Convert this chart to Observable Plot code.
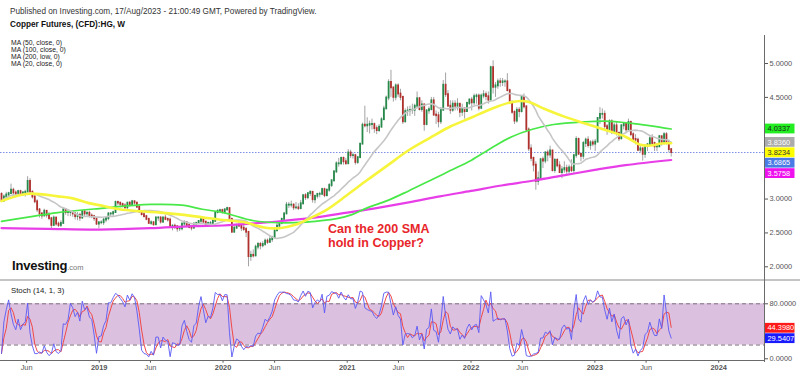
<!DOCTYPE html>
<html><head><meta charset="utf-8">
<script src="https://cdn.jsdelivr.net/npm/d3@7"></script>
<script src="https://cdn.jsdelivr.net/npm/@observablehq/plot@0.6"></script>
<style>
body{margin:0;background:#fff;}
#wrap{position:relative;width:800px;height:376px;overflow:hidden;font-family:"Liberation Sans",Arial,sans-serif;background:#fff;}
#wrap svg{position:absolute;left:0;}
.abs{position:absolute;white-space:nowrap;line-height:1;}
</style></head><body><div id="wrap"></div>
<script>
// ---------- DATA (weekly candles, Copper Futures HG, W) ----------
const firstWeek = "2018-03-19";
const firstOpen = 3.07;
const closes = [
 2.97,3.03,3.06,3.08,3.13,3.09,3.07,3.11,3.07,3.09,3.10,3.26,3.10,3.03,2.96,2.84,2.78,2.75,2.82,2.76,2.71,2.61,2.72,2.63,2.61,2.64,2.84,2.80,2.80,2.80,2.78,2.74,2.76,2.72,2.81,2.78,2.79,2.75,2.74,2.71,2.63,
 2.65,2.65,2.69,2.71,2.78,2.78,2.80,2.95,2.94,2.92,2.90,2.87,2.94,2.91,2.96,2.94,2.88,2.81,2.77,2.74,2.70,2.64,2.65,2.62,2.72,2.72,2.66,2.72,2.70,2.69,2.58,2.60,2.59,2.56,2.56,2.63,2.65,2.61,2.58,2.57,2.63,2.64,2.67,2.70,2.66,2.62,2.64,2.64,2.67,2.80,2.82,2.83,
 2.80,2.84,2.86,2.70,2.51,2.57,2.61,2.60,2.57,2.55,2.51,2.15,2.17,2.16,2.29,2.33,2.31,2.33,2.38,2.36,2.40,2.43,2.53,2.60,2.64,2.70,2.78,2.91,2.91,2.91,2.87,2.87,2.86,2.93,3.05,3.02,3.08,3.10,2.99,3.04,3.07,3.07,3.14,3.05,3.13,3.20,3.27,3.40,3.52,3.52,3.60,3.55,
 3.52,3.68,3.64,3.64,3.54,3.61,3.81,4.09,4.08,4.09,4.10,4.10,4.04,4.01,4.06,4.17,4.33,4.49,4.72,4.64,4.50,4.67,4.55,4.50,4.14,4.29,4.30,4.31,4.31,4.37,4.48,4.32,4.39,4.10,4.30,4.32,4.45,4.24,4.23,4.14,4.31,4.68,4.54,4.37,4.31,4.40,4.37,4.40,4.28,4.33,4.29,4.41,4.46,
 4.42,4.51,4.52,4.34,4.52,4.54,4.51,4.46,4.94,4.65,4.67,4.73,4.72,4.73,4.73,4.60,4.41,4.28,4.15,4.31,4.29,4.50,4.36,4.02,3.74,3.60,3.50,3.26,3.30,3.58,3.56,3.68,3.65,3.71,3.42,3.57,3.49,3.39,3.43,3.45,3.41,3.46,3.42,3.64,3.88,3.66,3.63,3.82,3.87,3.79,3.83,3.81,
 3.84,4.19,4.25,4.25,4.07,4.01,4.14,3.98,4.08,3.97,3.89,4.08,4.10,4.02,4.13,3.95,3.88,3.87,3.72,3.74,3.66,3.78,3.80,3.89,3.82,3.77,3.77,3.92,3.82,3.95,3.84,3.73,3.6865
];
const highs = [
 3.09,3.06,3.10,3.10,3.22,3.16,3.12,3.13,3.13,3.11,3.13,3.33,3.30,3.12,3.05,2.99,2.86,2.80,2.85,2.83,2.80,2.73,2.75,2.73,2.66,2.68,2.86,2.86,2.84,2.83,2.82,2.80,2.80,2.79,2.83,2.83,2.82,2.82,2.78,2.76,2.72,
 2.66,2.68,2.72,2.73,2.80,2.80,2.82,2.97,2.97,2.95,2.94,2.93,2.95,2.96,2.98,2.97,2.95,2.90,2.83,2.80,2.76,2.72,2.68,2.67,2.74,2.74,2.74,2.73,2.76,2.72,2.72,2.62,2.63,2.61,2.58,2.65,2.68,2.66,2.63,2.61,2.65,2.66,2.68,2.72,2.72,2.67,2.66,2.67,2.70,2.81,2.84,2.85,
 2.85,2.86,2.88,2.86,2.72,2.60,2.63,2.66,2.61,2.62,2.58,2.52,2.23,2.25,2.32,2.36,2.36,2.37,2.41,2.41,2.45,2.45,2.55,2.65,2.66,2.72,2.80,2.95,2.95,2.97,2.93,2.95,2.93,2.98,3.06,3.08,3.09,3.12,3.10,3.06,3.08,3.10,3.16,3.16,3.15,3.23,3.28,3.42,3.55,3.60,3.62,3.62,
 3.60,3.73,3.72,3.68,3.66,3.63,3.82,4.12,4.37,4.20,4.15,4.18,4.12,4.08,4.10,4.20,4.37,4.52,4.76,4.90,4.65,4.70,4.70,4.62,4.52,4.33,4.36,4.37,4.40,4.40,4.58,4.50,4.45,4.40,4.32,4.36,4.50,4.50,4.30,4.28,4.35,4.75,4.86,4.60,4.45,4.45,4.45,4.48,4.40,4.40,4.35,4.43,4.48,
 4.50,4.55,4.55,4.55,4.55,4.60,4.58,4.58,4.96,5.04,4.72,4.77,4.78,4.78,4.76,4.85,4.62,4.45,4.30,4.35,4.35,4.52,4.55,4.38,4.05,3.80,3.62,3.55,3.40,3.60,3.62,3.70,3.72,3.78,3.72,3.60,3.60,3.55,3.48,3.55,3.50,3.50,3.58,3.66,3.92,3.90,3.68,3.85,3.90,3.92,3.86,3.87,
 3.88,4.20,4.35,4.33,4.30,4.10,4.17,4.17,4.12,4.13,3.99,4.10,4.13,4.12,4.18,4.15,3.98,3.95,3.90,3.80,3.76,3.80,3.82,3.92,3.95,3.84,3.82,3.94,3.93,3.98,3.98,3.87,3.74
];
const lows = [
 2.96,2.96,3.00,3.02,3.07,3.05,3.02,3.05,3.05,3.04,3.03,3.09,3.09,3.00,2.93,2.80,2.72,2.70,2.74,2.72,2.68,2.55,2.60,2.60,2.58,2.58,2.63,2.76,2.74,2.74,2.73,2.69,2.68,2.67,2.70,2.74,2.74,2.72,2.71,2.67,2.61,
 2.56,2.62,2.61,2.65,2.68,2.74,2.74,2.79,2.90,2.87,2.87,2.85,2.84,2.88,2.89,2.91,2.86,2.79,2.75,2.72,2.68,2.63,2.61,2.60,2.61,2.67,2.63,2.64,2.68,2.66,2.57,2.53,2.55,2.51,2.52,2.53,2.60,2.59,2.56,2.53,2.56,2.60,2.62,2.63,2.64,2.59,2.60,2.60,2.61,2.66,2.78,2.79,
 2.78,2.77,2.82,2.68,2.50,2.50,2.55,2.58,2.52,2.52,2.43,2.00,2.08,2.13,2.15,2.25,2.25,2.28,2.30,2.33,2.35,2.36,2.42,2.52,2.55,2.62,2.68,2.77,2.86,2.87,2.83,2.84,2.83,2.84,2.91,2.98,2.99,3.04,2.94,2.93,3.00,3.02,3.05,3.02,3.03,3.10,3.17,3.25,3.38,3.47,3.50,3.50,
 3.50,3.52,3.60,3.59,3.50,3.51,3.60,3.80,4.05,3.98,3.96,4.02,3.97,3.95,3.98,4.05,4.16,4.32,4.45,4.50,4.43,4.45,4.50,4.45,4.10,4.12,4.22,4.22,4.25,4.22,4.35,4.30,4.28,4.00,4.08,4.25,4.30,4.22,4.10,4.05,4.10,4.30,4.50,4.35,4.25,4.28,4.30,4.30,4.20,4.22,4.18,4.28,4.38,
 4.30,4.38,4.40,4.30,4.32,4.48,4.45,4.40,4.45,4.55,4.50,4.62,4.65,4.66,4.65,4.58,4.40,4.25,4.10,4.12,4.20,4.27,4.33,3.98,3.70,3.55,3.40,3.13,3.20,3.28,3.45,3.52,3.55,3.60,3.40,3.38,3.46,3.38,3.30,3.38,3.35,3.36,3.39,3.38,3.60,3.65,3.55,3.58,3.76,3.75,3.72,3.77,
 3.70,3.83,4.10,4.18,4.02,3.94,3.98,3.95,3.95,3.93,3.85,3.87,4.02,3.98,4.00,3.92,3.84,3.80,3.70,3.68,3.56,3.60,3.70,3.78,3.78,3.70,3.70,3.76,3.78,3.80,3.80,3.68,3.62
];

const ma50Dates = ["2018-03-19","2018-05-15","2018-06-15","2018-09-01","2018-10-15","2018-12-01","2019-01-01","2019-03-01","2019-05-01","2019-07-01","2019-09-01","2019-11-01","2020-01-01","2020-03-01","2020-05-01","2020-06-15","2020-08-01","2020-09-15","2020-11-01","2021-01-01","2021-03-01","2021-05-01","2021-07-01","2021-09-01","2021-11-01","2022-01-01","2022-03-01","2022-05-01","2022-06-15","2022-08-01","2022-10-01","2022-12-01","2023-02-01","2023-04-01","2023-05-15","2023-06-15","2023-07-15","2023-08-14"];
const ma50Values = [2.97,3.06,3.08,3.04,3.01,2.94,2.91,2.85,2.82,2.80,2.77,2.73,2.69,2.66,2.58,2.57,2.62,2.72,2.84,3.06,3.28,3.50,3.72,3.90,4.07,4.20,4.33,4.43,4.44,4.34,4.22,4.12,4.02,3.92,3.80,3.79,3.82,3.8234];
const ma100Dates = ["2018-03-19","2018-06-01","2018-09-01","2019-01-01","2019-06-01","2019-09-01","2019-11-01","2020-01-01","2020-04-01","2020-06-15","2020-09-01","2020-12-01","2021-01-15","2021-03-01","2021-05-01","2021-07-01","2021-09-01","2021-11-01","2022-01-01","2022-03-01","2022-05-01","2022-07-01","2022-09-01","2022-12-01","2023-02-01","2023-04-15","2023-06-15","2023-08-14"];
const ma100Values = [2.67,2.73,2.80,2.86,2.92,2.91,2.85,2.80,2.68,2.65,2.66,2.71,2.77,2.87,2.98,3.12,3.27,3.42,3.57,3.75,3.92,4.03,4.10,4.14,4.15,4.12,4.08,4.0337];
const ma200Dates = ["2018-03-19","2018-08-01","2019-01-01","2019-06-01","2019-10-01","2020-01-01","2020-04-01","2020-07-01","2020-10-01","2021-01-01","2021-04-01","2021-07-01","2021-10-01","2022-01-01","2022-04-01","2022-07-01","2022-10-01","2023-01-01","2023-04-01","2023-08-14"];
const ma200Values = [2.57,2.56,2.55,2.57,2.60,2.61,2.64,2.68,2.73,2.80,2.87,2.95,3.04,3.12,3.20,3.27,3.35,3.43,3.50,3.5758];

// Last-value tags
const priceTagValues = [4.0337, 3.8360, 3.8234, 3.6865, 3.5758];
const priceTagFills  = ["#22ee22", "#ababab", "#ffff00", "#4a7ae6", "#ee11ee"];
const priceTagInk    = ["#1a1a1a", "#ffffff", "#333333", "#ffffff", "#ffffff"];
const stochTagValues = [44.3980, 29.5407];
const stochTagFills  = ["#ff1a1a", "#1a1aff"];
const stochTagInk    = ["#ffffff", "#ffffff"];

// Axes (labels hidden behind the tags in the reference are left out)
const priceTicks = [2, 2.5, 3, 4.5, 5];
const stochTicks = [0, 80];
const stochBand = [20, 80];
const tickDates  = ["2018-06-01","2019-01-01","2019-06-01","2020-01-01","2020-06-01","2021-01-01","2021-06-01","2022-01-01","2022-06-01","2023-01-01","2023-06-01","2024-01-01"];
const tickLabels = ["Jun","2019","Jun","2020","Jun","2021","Jun","2022","Jun","2023","Jun","2024"];
const maLegend = ["MA (50, close, 0)", "MA (100, close, 0)", "MA (200, low, 0)", "MA (20, close, 0)"];

// ---------- BUILD ----------
const FONT = "'Liberation Sans', Arial, sans-serif";
const UP = "#26894a", DOWN = "#b0302c";
const dateOf = s => new Date(s + "T00:00:00Z");
const n = Math.min(closes.length, highs.length, lows.length);
const start = dateOf(firstWeek);
const candles = d3.range(n).map(i => ({
  date: d3.utcDay.offset(start, 7 * i),
  open: i === 0 ? firstOpen : closes[i - 1],
  high: highs[i], low: lows[i], close: closes[i]
}));
const toSeries = (ds, vs) => ds.map((d, i) => ({date: dateOf(d), value: vs[i]}));
const ma50 = toSeries(ma50Dates, ma50Values);
const ma100 = toSeries(ma100Dates, ma100Values);
const ma200 = toSeries(ma200Dates, ma200Values);

// Stoch(14,1,3)
const kData = candles.map((d, i) => {
  const from = Math.max(0, i - 13);
  const hh = d3.max(highs.slice(from, i + 1)), ll = d3.min(lows.slice(from, i + 1));
  return {date: d.date, k: hh > ll ? (d.close - ll) / (hh - ll) * 100 : 50};
});

const xDomain = [dateOf("2018-03-16"), dateOf("2024-05-15")];

function tagMark(values, fills, inks) {
  return (index, scales, vals, dims) => {
    const g = d3.create("svg:g").attr("text-anchor", "start");
    const x0 = dims.width - dims.marginRight;
    const H = 10.4;
    const order = d3.range(values.length).sort((a, b) => values[b] - values[a]);
    let prev = -Infinity;
    for (const i of order) {
      let y = scales.y(values[i]);
      if (y < prev + H) y = prev + H;
      prev = y;
      g.append("rect").attr("x", x0 + 0.5).attr("y", y - H / 2 + 0.3).attr("width", 30).attr("height", H - 0.6).attr("fill", fills[i]);
      g.append("text").attr("x", x0 + 3.5).attr("y", y).attr("dy", "0.36em").attr("text-anchor", "start")
        .attr("fill", inks[i]).attr("font-size", 7.4).attr("font-family", FONT)
        .text(values[i].toFixed(4));
    }
    return g.node();
  };
}

const price = Plot.plot({
  width: 800, height: 280,
  marginLeft: 0, marginRight: 36, marginTop: 0, marginBottom: 0,
  style: {fontFamily: FONT, fontSize: "7.4px", background: "transparent", color: "#555", overflow: "visible"},
  x: {type: "utc", domain: xDomain, axis: null},
  y: {domain: [1.798, 5.93]},
  marks: [
    Plot.axisY(priceTicks, {anchor: "right", tickSize: 3, tickPadding: 2, tickFormat: d => d.toFixed(4), fontSize: 7.4, label: null}),
    Plot.ruleY([closes[n - 1]], {stroke: "#7a90e6", strokeDasharray: "1.5,1.5", strokeWidth: 1}),
    Plot.ruleX(candles, {x: "date", y1: "low", y2: "high", stroke: "#a3a3a3", strokeWidth: 1}),
    Plot.ruleX(candles, {x: "date", y1: "open", y2: "close", filter: d => d.close >= d.open, stroke: UP, strokeWidth: 1.8, strokeLinecap: "square"}),
    Plot.ruleX(candles, {x: "date", y1: "open", y2: "close", filter: d => d.close < d.open, stroke: DOWN, strokeWidth: 1.8, strokeLinecap: "square"}),
    Plot.line(ma200, {x: "date", y: "value", stroke: "#e83ee8", strokeWidth: 2.2, curve: "catmull-rom"}),
    Plot.line(ma100, {x: "date", y: "value", stroke: "#48e848", strokeWidth: 1.7, curve: "catmull-rom"}),
    Plot.line(candles, Plot.windowY({k: 20, anchor: "end"}, {x: "date", y: "close", stroke: "#c6c6c6", strokeWidth: 1.6})),
    Plot.line(ma50, {x: "date", y: "value", stroke: "#f7f53b", strokeWidth: 2.6, curve: "catmull-rom"}),
    tagMark(priceTagValues, priceTagFills, priceTagInk)
  ]
});
price.style.top = "0px";

const labelByTime = new Map(tickDates.map((d, i) => [+dateOf(d), tickLabels[i]]));
const yearTicks = tickDates.filter((d, i) => /^\d+$/.test(tickLabels[i])).map(dateOf);
const monthTicks = tickDates.filter((d, i) => !/^\d+$/.test(tickLabels[i])).map(dateOf);

const stoch = Plot.plot({
  width: 800, height: 96,
  marginLeft: 0, marginRight: 36, marginTop: 0, marginBottom: 15.3,
  style: {fontFamily: FONT, fontSize: "7.4px", background: "transparent", color: "#555", overflow: "visible"},
  x: {type: "utc", domain: xDomain},
  y: {domain: [-3.5, 113.9]},
  marks: [
    Plot.rect([stochBand], {y1: d => d[0], y2: d => d[1], fill: "#dcc0df"}),
    Plot.ruleY(stochBand, {stroke: "#7d6f7d", strokeDasharray: "4,3", strokeWidth: 1}),
    Plot.line(kData, Plot.windowY({k: 3, anchor: "end"}, {x: "date", y: "k", stroke: "#f04848", strokeWidth: 1})),
    Plot.line(kData, {x: "date", y: "k", stroke: "#5a5af5", strokeOpacity: 0.9, strokeWidth: 1}),
    Plot.axisY(stochTicks, {anchor: "right", tickSize: 3, tickPadding: 2, tickFormat: d => d.toFixed(4), fontSize: 7.4, label: null}),
    Plot.axisX(monthTicks, {anchor: "bottom", tickSize: 2, tickPadding: 2, tickFormat: d => labelByTime.get(+d), fontSize: 7.4, label: null}),
    Plot.axisX(yearTicks, {anchor: "bottom", tickSize: 2, tickPadding: 2, tickFormat: d => labelByTime.get(+d), fontSize: 7.4, fontWeight: "bold", label: null}),
    tagMark(stochTagValues, stochTagFills, stochTagInk)
  ]
});
stoch.style.top = "280px";

const wrap = document.getElementById("wrap");
wrap.appendChild(price);
wrap.appendChild(stoch);

function div(css, html) {
  const el = document.createElement("div");
  el.className = "abs";
  el.style.cssText += css;
  if (html) el.innerHTML = html;
  wrap.appendChild(el);
  return el;
}
// frame lines
div("left:0;top:279px;width:800px;height:2px;background:#c4c4c4;");
div("left:0;top:360px;width:765px;height:1px;background:#6a6a6a;");
div("left:764px;top:35px;width:1px;height:327px;background:#6a6a6a;");
// header
div("left:10px;top:8px;font-size:8.2px;color:#333;", "Published on Investing.com, 17/Aug/2023 - 21:00:49 GMT, Powered by TradingView.");
div("left:10px;top:21px;font-size:8.2px;font-weight:bold;color:#111;", "Copper Futures, (CFD):HG, W");
maLegend.forEach((t, i) => div(`left:11px;top:${39.5 + i * 7}px;font-size:6.8px;color:#222;`, t));
// logo
div("left:12px;top:259px;font-size:13px;font-weight:bold;color:#111;letter-spacing:-0.2px;", "Investing<span style='font-size:7.5px;font-weight:normal;color:#777;letter-spacing:0'>.com</span>");
// annotation
div("left:328px;top:222px;font-size:12.5px;line-height:14px;font-weight:bold;color:#e8262a;", "Can the 200 SMA<br>hold in Copper?");
// stoch label
div("left:11px;top:287px;font-size:7.8px;color:#222;", "Stoch (14, 1, 3)");
</script>
</body></html>
